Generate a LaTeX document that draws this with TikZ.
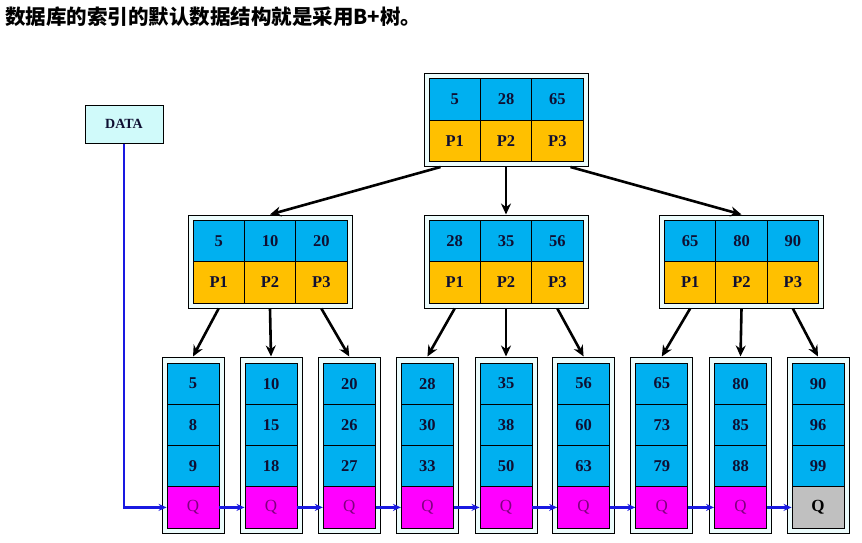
\documentclass[tikz,border=0pt]{standalone}
\usepackage{fontspec}
\setmainfont{Liberation Serif}
\newfontfamily\cjk{Noto Sans CJK SC}
\usetikzlibrary{arrows.meta,calc}
\definecolor{cellblue}{RGB}{0,176,240}
\definecolor{cellyellow}{RGB}{255,192,0}
\definecolor{cellmag}{RGB}{255,0,255}
\definecolor{cellgray}{RGB}{192,192,192}
\definecolor{boxfill}{RGB}{236,252,252}
\definecolor{datafill}{RGB}{208,250,250}
\definecolor{txt}{RGB}{15,15,50}
\definecolor{qtxt}{RGB}{128,0,128}
\definecolor{link}{RGB}{25,25,225}
\newcommand\innerNode[6]{%
  \node[outerint] (#1) at (#2,#3) {};
  \node[keycell] (#1k1) at ({#2-51.33},{#3-20.75}) {#4};
  \node[keycell] (#1k2) at (#2,{#3-20.75}) {#5};
  \node[keycell] (#1k3) at ({#2+51.33},{#3-20.75}) {#6};
  \node[ptrcell] (#1p1) at ({#2-51.33},{#3+20.75}) {P1};
  \node[ptrcell] (#1p2) at (#2,{#3+20.75}) {P2};
  \node[ptrcell] (#1p3) at ({#2+51.33},{#3+20.75}) {P3};
}
\newcommand\leafNode[6]{%
  \node[leafout] (#1) at (#2,445) {};
  \node[leafcell] (#1a) at (#2,383.6) {#3};
  \node[leafcell] (#1b) at (#2,424.9) {#4};
  \node[leafcell] (#1c) at (#2,466.1) {#5};
  \node[#6] (#1q) at (#2,507.4) {Q};
}
\begin{document}
\begin{tikzpicture}[x=1pt,y=-1pt,
  outerint/.style={draw=black,line width=1pt,fill=boxfill,inner sep=0pt,minimum width=164pt,minimum height=93pt},
  leafout/.style={draw=black,line width=1pt,fill=boxfill,inner sep=0pt,minimum width=62pt,minimum height=176pt},
  cell/.style={draw=black,line width=0.9pt,inner sep=0pt,font=\fontsize{16.5}{16.5}\selectfont\bfseries,text=txt},
  keycell/.style={cell,fill=cellblue,minimum width=51.33pt,minimum height=41.5pt},
  ptrcell/.style={cell,fill=cellyellow,minimum width=51.33pt,minimum height=41.5pt},
  leafcell/.style={cell,fill=cellblue,minimum width=52pt,minimum height=41.25pt},
  qcell/.style={draw=black,line width=0.9pt,inner sep=0pt,fill=cellmag,minimum width=52pt,minimum height=41.25pt,font=\fontsize{17}{17}\selectfont,text=qtxt},
  lastq/.style={qcell,fill=cellgray,text=black,font=\fontsize{17}{17}\selectfont\bfseries},
  tree/.style={-{Stealth[length=11pt,width=10pt]},line width=2.6pt,black},
  chain/.style={-{Stealth[length=8pt,width=7pt]},line width=2.6pt,link},
  databox/.style={draw=black,line width=1pt,fill=datafill,minimum width=78pt,minimum height=38pt,inner sep=0pt,font=\fontsize{14}{14}\selectfont\bfseries,text=txt}
]
\fill[white] (0,0) rectangle (862,543);
\useasboundingbox (0,0) rectangle (862,543);

\node[anchor=west,inner sep=0pt,font=\cjk\bfseries\fontsize{20.5}{21}\selectfont] (title) at (5,17) {数据库的索引的默认数据结构就是采用B+树。};

\node[databox] (data) at (124,124) {DATA};

\innerNode{root}{506}{120}{5}{28}{65}
\innerNode{ma}{270}{261.5}{5}{10}{20}
\innerNode{mb}{506}{261.5}{28}{35}{56}
\innerNode{mc}{741.5}{261.5}{65}{80}{90}

\leafNode{la}{193}{5}{8}{9}{qcell}
\leafNode{lb}{271}{10}{15}{18}{qcell}
\leafNode{lc}{349.3}{20}{26}{27}{qcell}
\leafNode{ld}{427.4}{28}{30}{33}{qcell}
\leafNode{le}{506}{35}{38}{50}{qcell}
\leafNode{lf}{583.6}{56}{60}{63}{qcell}
\leafNode{lg}{661.8}{65}{73}{79}{qcell}
\leafNode{lh}{740.5}{80}{85}{88}{qcell}
\leafNode{li}{818}{90}{96}{99}{lastq}

\draw[tree] ([xshift=17pt]root.south west) -- (ma.north);
\draw[tree] (root.south) -- (mb.north);
\draw[tree] ([xshift=-18pt]root.south east) -- (mc.north);

\draw[tree] (map1 |- ma.south) -- (la.north);
\draw[tree] (map2 |- ma.south) -- (lb.north);
\draw[tree] (map3 |- ma.south) -- (lc.north);
\draw[tree] (mbp1 |- mb.south) -- (ld.north);
\draw[tree] (mbp2 |- mb.south) -- (le.north);
\draw[tree] (mbp3 |- mb.south) -- (lf.north);
\draw[tree] (mcp1 |- mc.south) -- (lg.north);
\draw[tree] (mcp2 |- mc.south) -- (lh.north);
\draw[tree] (mcp3 |- mc.south) -- (li.north);

\draw[chain] (data.south) |- (laq.west);
\draw[chain] (laq.east) -- (lbq.west);
\draw[chain] (lbq.east) -- (lcq.west);
\draw[chain] (lcq.east) -- (ldq.west);
\draw[chain] (ldq.east) -- (leq.west);
\draw[chain] (leq.east) -- (lfq.west);
\draw[chain] (lfq.east) -- (lgq.west);
\draw[chain] (lgq.east) -- (lhq.west);
\draw[chain] (lhq.east) -- (liq.west);
\end{tikzpicture}
\end{document}
